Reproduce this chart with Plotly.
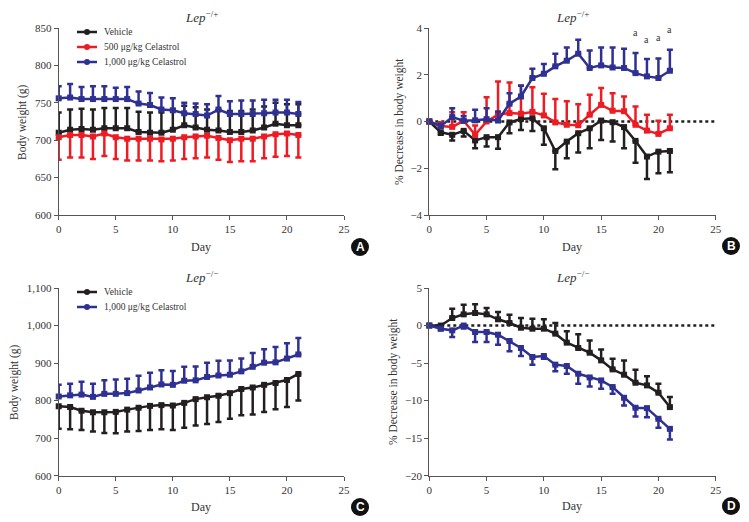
import plotly.graph_objects as go

days = list(range(22))

# Panel A: Lep-/+ body weight (g)
a_veh = [710, 714, 715, 714, 716, 716, 716, 711, 710, 710, 714, 720, 717, 714, 713, 711, 711, 713, 717, 722, 720, 720]
a_veh_sd = [27, 27, 27, 27, 27, 27, 27, 27, 27, 27, 27, 26, 27, 27, 27, 28, 28, 28, 28, 28, 28, 28]
a_500 = [704, 707, 707, 705, 709, 704, 702, 702, 702, 701, 702, 704, 705, 706, 703, 700, 702, 702, 705, 708, 709, 707]
a_500_sd = [30, 30, 30, 30, 30, 29, 29, 29, 29, 29, 29, 29, 29, 29, 29, 29, 30, 30, 29, 30, 30, 30]
a_1000 = [756, 757, 755, 755, 755, 755, 755, 749, 747, 741, 740, 736, 735, 733, 741, 735, 735, 735, 736, 737, 737, 735]
a_1000_sd = [16, 18, 16, 17, 17, 15, 16, 16, 16, 16, 16, 14, 14, 15, 18, 17, 18, 18, 18, 17, 17, 16]

# Panel B: Lep-/+ % decrease in body weight
b_veh = [0, -0.46, -0.57, -0.40, -0.81, -0.67, -0.67, -0.04, 0.11, 0.14, -0.29, -1.26, -0.86, -0.50, -0.29, 0.04, -0.03, -0.24, -0.83, -1.50, -1.29, -1.26]
b_veh_sd = [0, 0.11, 0.24, 0.24, 0.33, 0.40, 0.50, 0.46, 0.47, 0.55, 0.71, 0.78, 0.71, 0.83, 0.85, 0.83, 0.83, 0.90, 0.93, 0.96, 0.92, 0.91]
b_500 = [0, -0.19, -0.23, 0.03, -0.57, 0.0, 0.29, 0.36, 0.33, 0.41, 0.26, -0.04, -0.14, -0.16, 0.29, 0.71, 0.46, 0.44, -0.14, -0.39, -0.53, -0.29]
b_500_sd = [0, 0.16, 0.63, 0.37, 0.40, 1.04, 1.42, 1.31, 1.21, 1.05, 0.93, 1.00, 1.01, 0.90, 0.85, 0.72, 0.75, 0.63, 0.78, 0.68, 0.56, 0.58]
b_1000 = [0, -0.20, 0.19, 0.03, 0.05, 0.10, 0.04, 0.76, 1.07, 1.86, 2.04, 2.36, 2.60, 2.90, 2.29, 2.40, 2.31, 2.29, 2.07, 1.93, 1.86, 2.17]
b_1000_sd = [0, 0.10, 0.38, 0.20, 0.45, 0.47, 0.39, 0.45, 0.46, 0.40, 0.42, 0.54, 0.57, 0.60, 0.75, 0.77, 0.86, 0.82, 0.86, 0.74, 0.84, 0.90]
b_sig_days = [18, 19, 20, 21]
b_sig_y = [3.8, 3.5, 3.6, 3.95]

# Panel C: Lep-/- body weight (g)
c_veh = [785, 783, 773, 769, 769, 770, 776, 781, 786, 788, 787, 794, 804, 809, 813, 820, 831, 835, 842, 847, 855, 871]
c_veh_sd = [60, 59, 51, 51, 55, 57, 58, 62, 64, 64, 65, 66, 70, 71, 70, 68, 70, 72, 72, 70, 72, 71]
c_1000 = [811, 814, 816, 810, 818, 818, 820, 827, 835, 843, 842, 853, 854, 863, 867, 869, 878, 890, 901, 902, 912, 923]
c_1000_sd = [31, 31, 34, 35, 36, 38, 38, 39, 39, 38, 37, 37, 37, 38, 39, 38, 34, 37, 36, 41, 41, 44]

# Panel D: Lep-/- % decrease in body weight
d_veh = [0, 0, 1.0, 1.49, 1.67, 1.49, 0.83, 0.34, -0.29, -0.42, -0.42, -1.08, -2.28, -2.99, -3.62, -4.64, -5.84, -6.55, -7.62, -7.97, -8.95, -10.86]
d_veh_sd = [0, 0, 1.24, 1.29, 1.15, 0.84, 0.97, 1.10, 1.29, 1.34, 1.25, 1.42, 1.51, 1.82, 1.64, 1.46, 1.42, 1.91, 1.73, 1.20, 1.20, 1.33]
d_1000 = [0, -0.42, -0.64, 0.0, -0.86, -0.86, -1.22, -2.06, -2.99, -4.19, -4.06, -5.21, -5.39, -6.42, -6.91, -7.31, -8.19, -9.62, -10.95, -11.0, -12.42, -13.76]
d_1000_sd = [0, 0.2, 0.89, 0.40, 1.33, 1.33, 1.33, 1.38, 1.07, 1.02, 0.36, 0.89, 1.03, 1.33, 1.20, 1.10, 0.89, 1.02, 1.15, 1.20, 1.20, 1.41]

names = ["Vehicle", "500 \u03bcg/kg Celastrol", "1,000 \u03bcg/kg Celastrol"]
BLACK = "#231f20"
RED = "#ed1c24"
BLUE = "#2e3192"
FONT = "Liberation Serif"
W, H = 749, 522

def px(x):
    return x / W

def py(y):
    return 1 - y / H

fig = go.Figure()

def add(x, y, sd, color, xa, ya, name, up=True):
    err = dict(type="data", symmetric=False,
               array=sd if up else [0] * len(sd),
               arrayminus=[0] * len(sd) if up else sd,
               color=color, thickness=2.5, width=3)
    fig.add_trace(go.Scatter(
        x=x, y=y, mode="lines+markers", name=name,
        line=dict(color=color, width=2.5),
        marker=dict(color=color, size=6, symbol="square"),
        error_y=err, xaxis=xa, yaxis=ya, cliponaxis=False,
        showlegend=False))

# A
add(days, a_veh, a_veh_sd, BLACK, "x", "y", names[0], up=True)
add(days, a_500, a_500_sd, RED, "x", "y", names[1], up=False)
add(days, a_1000, a_1000_sd, BLUE, "x", "y", names[2], up=True)
# B
add(days, b_veh, b_veh_sd, BLACK, "x2", "y2", names[0], up=False)
add(days, b_500, b_500_sd, RED, "x2", "y2", names[1], up=True)
add(days, b_1000, b_1000_sd, BLUE, "x2", "y2", names[2], up=True)
# C
add(days, c_veh, c_veh_sd, BLACK, "x3", "y3", names[0], up=False)
add(days, c_1000, c_1000_sd, BLUE, "x3", "y3", names[2], up=True)
# D
add(days, d_veh, d_veh_sd, BLACK, "x4", "y4", names[0], up=True)
add(days, d_1000, d_1000_sd, BLUE, "x4", "y4", names[2], up=False)

# zero reference lines
for xr, yr in [("x2", "y2"), ("x4", "y4")]:
    fig.add_shape(type="line", xref=xr, yref=yr, x0=0, x1=25, y0=0, y1=0,
                  line=dict(color=BLACK, width=2.5, dash="dot"), layer="below")

xdomL = [px(58.7), px(344)]
xdomR = [px(429.3), px(715.7)]
ydomT = [py(215), py(28)]
ydomB = [py(475.7), py(288)]

tickfont = dict(family=FONT, size=11, color="#333")
axcommon = dict(showline=True, linecolor="#555", linewidth=1, ticks="outside",
                ticklen=4, tickcolor="#555", showgrid=False, zeroline=False,
                tickfont=tickfont, automargin=False)

def xax(dom, anchor):
    return dict(domain=dom, anchor=anchor, range=[0, 25], tickvals=[0, 5, 10, 15, 20, 25], **axcommon)

def yax(dom, anchor, rng, tv, fmt=None):
    d = dict(domain=dom, anchor=anchor, range=rng, tickvals=tv, **axcommon)
    if fmt:
        d["tickformat"] = fmt
    return d

fig.update_layout(
    template="none",
    width=W, height=H, margin=dict(l=0, r=0, t=0, b=0, pad=0),
    paper_bgcolor="white", plot_bgcolor="white",
    font=dict(family=FONT, color="#333"),
    showlegend=False,
    xaxis=xax(xdomL, "y"),
    yaxis=yax(ydomT, "x", [600, 850], [600, 650, 700, 750, 800, 850]),
    xaxis2=xax(xdomR, "y2"),
    yaxis2=yax(ydomT, "x2", [-4, 4], [-4, -2, 0, 2, 4]),
    xaxis3=xax(xdomL, "y3"),
    yaxis3=yax(ydomB, "x3", [600, 1100], [600, 700, 800, 900, 1000, 1100], ","),
    xaxis4=xax(xdomR, "y4"),
    yaxis4=yax(ydomB, "x4", [-20, 5], [-20, -15, -10, -5, 0, 5]),
)

ann = []
# significance letters
for d, v in zip(b_sig_days, b_sig_y):
    ann.append(dict(x=d, y=v, xref="x2", yref="y2", text="a", showarrow=False,
                    font=dict(family=FONT, size=10, color="#333"), xanchor="center", yanchor="middle"))
# titles
for (cx, cy, txt) in [(201, 17, "<i>Lep</i><sup>\u2212/+</sup>"), (572, 17, "<i>Lep</i><sup>\u2212/+</sup>"),
                      (201, 277, "<i>Lep</i><sup>\u2212/\u2212</sup>"), (572, 277, "<i>Lep</i><sup>\u2212/\u2212</sup>")]:
    ann.append(dict(x=px(cx), y=py(cy), xref="paper", yref="paper", text=txt, showarrow=False,
                    font=dict(family=FONT, size=13, color="#333"), xanchor="center", yanchor="middle"))
# x titles
for (cx, cy) in [(201, 247), (572, 247), (201, 507), (572, 506)]:
    ann.append(dict(x=px(cx), y=py(cy), xref="paper", yref="paper", text="Day", showarrow=False,
                    font=dict(family=FONT, size=12, color="#333"), xanchor="center", yanchor="middle"))
# y titles
for (cx, cy, txt) in [(23, 122, "Body weight (g)"), (400, 122, "% Decrease in body weight"),
                      (14, 382, "Body weight (g)"), (393, 382, "% Decrease in body weight")]:
    ann.append(dict(x=px(cx), y=py(cy), xref="paper", yref="paper", text=txt, showarrow=False,
                    textangle=-90, font=dict(family=FONT, size=11.5, color="#333"),
                    xanchor="center", yanchor="middle"))

# legends (drawn manually for compact row spacing)
legA = [(32, BLACK, names[0]), (47, RED, names[1]), (62, BLUE, names[2])]
legC = [(292, BLACK, names[0]), (307, BLUE, names[2])]
for (ry, col, txt) in legA + legC:
    fig.add_shape(type="line", xref="paper", yref="paper", x0=px(77), x1=px(97), y0=py(ry), y1=py(ry),
                  line=dict(color=col, width=2.5))
    fig.add_shape(type="circle", xref="paper", yref="paper", x0=px(84), x1=px(90),
                  y0=py(ry + 3), y1=py(ry - 3), fillcolor=col, line=dict(color=col, width=0))
    ann.append(dict(x=px(102), y=py(ry), xref="paper", yref="paper", text=txt, showarrow=False,
                    font=dict(family=FONT, size=9.5, color="#333"), xanchor="left", yanchor="middle"))

# panel labels
for (cx, cy, lab) in [(360, 247, "A"), (731, 246, "B"), (360, 507, "C"), (731, 506, "D")]:
    fig.add_shape(type="circle", xref="paper", yref="paper",
                  x0=px(cx - 9), x1=px(cx + 9), y0=py(cy + 9), y1=py(cy - 9),
                  fillcolor="#111", line=dict(color="#111", width=0))
    ann.append(dict(x=px(cx), y=py(cy), xref="paper", yref="paper", text="<b>" + lab + "</b>",
                    showarrow=False, font=dict(family="Liberation Sans", size=12, color="white"),
                    xanchor="center", yanchor="middle"))
fig.update_layout(annotations=ann)

fig.write_html("out.html", config={"displayModeBar": False},
               post_script="document.body.style.margin='0px';document.body.style.overflow='hidden';")
